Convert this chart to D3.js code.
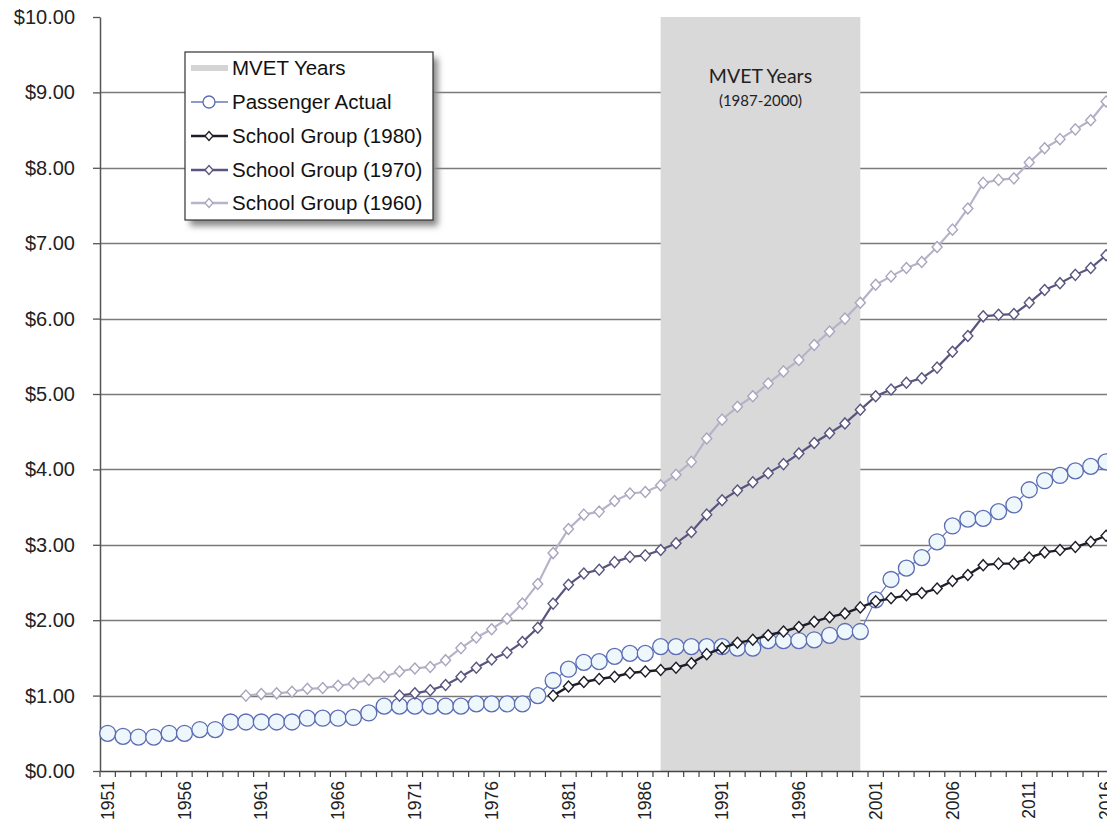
<!DOCTYPE html>
<html>
<head>
<meta charset="utf-8">
<script src="https://cdn.jsdelivr.net/npm/d3@7"></script>
<style>
  html, body { margin: 0; padding: 0; background: #fff; }
  svg { display: block; }
</style>
</head>
<body>
<svg id="chart" width="1107" height="822"></svg>
<script>
// ---------------- DATA ----------------
const years = [1951,1952,1953,1954,1955,1956,1957,1958,1959,1960,
  1961,1962,1963,1964,1965,1966,1967,1968,1969,1970,
  1971,1972,1973,1974,1975,1976,1977,1978,1979,1980,
  1981,1982,1983,1984,1985,1986,1987,1988,1989,1990,
  1991,1992,1993,1994,1995,1996,1997,1998,1999,2000,
  2001,2002,2003,2004,2005,2006,2007,2008,2009,2010,
  2011,2012,2013,2014,2015,2016];
const labeledYears = [1951,1956,1961,1966,1971,1976,1981,1986,1991,1996,2001,2006,2011,2016];
const yTicks = [0,1,2,3,4,5,6,7,8,9,10];

const passengerStart = 1951;
const passengerActual = [0.50,0.46,0.45,0.45,0.50,0.50,0.55,0.55,0.65,0.65,
  0.65,0.65,0.65,0.70,0.70,0.70,0.71,0.77,0.86,0.86,
  0.86,0.86,0.86,0.86,0.89,0.89,0.89,0.89,1.00,1.20,
  1.35,1.44,1.45,1.52,1.56,1.56,1.65,1.65,1.65,1.65,
  1.65,1.63,1.63,1.73,1.73,1.73,1.74,1.80,1.85,1.85,
  2.27,2.54,2.69,2.83,3.04,3.25,3.34,3.35,3.44,3.53,
  3.73,3.85,3.92,3.98,4.04,4.10];

const school1960Start = 1960;
const school1960 = [1.00,1.02,1.03,1.05,1.09,1.10,1.13,1.16,1.21,1.25,
  1.32,1.36,1.38,1.47,1.63,1.77,1.88,2.02,2.22,2.48,
  2.89,3.21,3.40,3.44,3.58,3.68,3.70,3.79,3.93,4.10,
  4.41,4.66,4.83,4.97,5.14,5.30,5.45,5.65,5.83,6.00,
  6.21,6.45,6.56,6.67,6.75,6.95,7.18,7.46,7.80,7.84,
  7.86,8.07,8.26,8.38,8.51,8.63,8.88];

const school1970Start = 1970;
const school1970 = [1.00,1.03,1.07,1.14,1.25,1.37,1.48,1.57,1.71,1.90,
  2.22,2.47,2.62,2.67,2.77,2.84,2.86,2.93,3.02,3.17,
  3.40,3.59,3.72,3.83,3.95,4.07,4.21,4.35,4.48,4.61,
  4.79,4.97,5.06,5.15,5.21,5.35,5.56,5.77,6.03,6.05,
  6.06,6.21,6.38,6.47,6.58,6.67,6.84];

const school1980Start = 1980;
const school1980 = [1.00,1.12,1.18,1.22,1.25,1.30,1.32,1.34,1.37,1.43,
  1.55,1.63,1.70,1.74,1.80,1.85,1.91,1.98,2.04,2.09,
  2.17,2.25,2.29,2.33,2.36,2.42,2.52,2.60,2.73,2.75,
  2.75,2.83,2.90,2.93,2.97,3.04,3.12];

const mvetStart = 1987, mvetEnd = 2000;
const mvetLabel = "MVET Years", mvetSub = "(1987-2000)";
const legendLabels = ["MVET Years","Passenger Actual","School Group (1980)","School Group (1970)","School Group (1960)"];

// ---------------- LAYOUT ----------------
const svg = d3.select("#chart");
const plotLeft = 100, plotTop = 17, plotBottom = 771;
const band = 15.36;
const x = d3.scaleBand().domain(years).range([plotLeft, plotLeft + years.length * band]).paddingInner(0).paddingOuter(0);
const cx = d => x(d) + x.bandwidth() / 2;
const y = d3.scaleLinear().domain([0, 10]).range([plotBottom, plotTop]);

const toPts = (start, arr) => arr.map((v, i) => ({ year: start + i, v }));
const pass = toPts(passengerStart, passengerActual);
const s60 = toPts(school1960Start, school1960);
const s70 = toPts(school1970Start, school1970);
const s80 = toPts(school1980Start, school1980);

const defs = svg.append("defs");
const f = defs.append("filter").attr("id", "shadow").attr("x", "-10%").attr("y", "-10%").attr("width", "130%").attr("height", "130%");
f.append("feGaussianBlur").attr("stdDeviation", 3);

// gridlines
svg.append("g").selectAll("line").data(yTicks.filter(d => d > 0 && d < 10)).join("line")
  .attr("x1", plotLeft).attr("x2", 1107)
  .attr("y1", d => Math.round(y(d)) + 0.5).attr("y2", d => Math.round(y(d)) + 0.5)
  .attr("stroke", "#7a7a7a").attr("stroke-width", 1.3);

// MVET shade
svg.append("rect")
  .attr("x", cx(mvetStart)).attr("y", plotTop)
  .attr("width", cx(mvetEnd) - cx(mvetStart)).attr("height", plotBottom - plotTop)
  .attr("fill", "#d9d9d9");

svg.append("text").attr("x", (cx(mvetStart) + cx(mvetEnd)) / 2).attr("y", 83)
  .attr("text-anchor", "middle").attr("font-family", "Lato, 'Open Sans', sans-serif")
  .attr("font-size", 19.5).attr("fill", "#222").text(mvetLabel);
svg.append("text").attr("x", (cx(mvetStart) + cx(mvetEnd)) / 2).attr("y", 106)
  .attr("text-anchor", "middle").attr("font-family", "Lato, 'Open Sans', sans-serif")
  .attr("font-size", 15).attr("fill", "#222").text(mvetSub);

// axes
const yAxis = svg.append("g").attr("transform", `translate(${plotLeft},0)`)
  .call(d3.axisLeft(y).tickValues(yTicks).tickFormat(d => "$" + d.toFixed(2)).tickSizeInner(7).tickSizeOuter(0).tickPadding(18));
yAxis.select(".domain").attr("stroke", "#555").attr("stroke-width", 1.5);
yAxis.selectAll(".tick line").attr("stroke", "#555").attr("stroke-width", 1.3);
yAxis.selectAll("text").attr("font-family", "'Liberation Sans', Arial, sans-serif").attr("font-size", 20).attr("fill", "#222");

const xAxis = svg.append("g").attr("transform", `translate(0,${plotBottom})`)
  .call(d3.axisBottom(x).tickValues(labeledYears).tickSize(0).tickPadding(0));
xAxis.select(".domain").attr("stroke", "#444").attr("stroke-width", 1.5);
xAxis.selectAll("text")
  .attr("font-family", "'Liberation Sans', Arial, sans-serif").attr("font-size", 17.5).attr("fill", "#222")
  .attr("text-anchor", "end").attr("dy", "0.35em").attr("y", 0)
  .attr("transform", "translate(0,10) rotate(-90)");
// tick marks at band boundaries
const bounds = years.map(d => x(d)).concat([x(years[years.length - 1]) + x.bandwidth()]);
svg.append("g").selectAll("line").data(bounds).join("line")
  .attr("x1", d => d).attr("x2", d => d).attr("y1", plotBottom).attr("y2", plotBottom + 6)
  .attr("stroke", "#444").attr("stroke-width", 1.2);

// series
const line = d3.line().x(d => cx(d.year)).y(d => y(d.v));
const diamond = "M0,-5.5L5,0L0,5.5L-5,0Z";

function drawPassenger(g, pts) {
  g.append("path").datum(pts).attr("d", line).attr("fill", "none").attr("stroke", "#6a78c0").attr("stroke-width", 1.2);
  g.selectAll("circle").data(pts).join("circle")
    .attr("cx", d => cx(d.year)).attr("cy", d => y(d.v)).attr("r", 8)
    .attr("fill", "#eef7fc").attr("stroke", "#5b6cb4").attr("stroke-width", 1.3);
}
function drawDiamonds(g, pts, lineColor, markColor, lw) {
  g.append("path").datum(pts).attr("d", line).attr("fill", "none").attr("stroke", lineColor).attr("stroke-width", lw);
  g.selectAll("path.m").data(pts).join("path").attr("class", "m")
    .attr("d", diamond).attr("transform", d => `translate(${cx(d.year)},${y(d.v)})`)
    .attr("fill", "#fff").attr("stroke", markColor).attr("stroke-width", 1.4);
}
const c60 = "#b8b3c9", c70 = "#58557f", c80 = "#1e1e2a";
drawPassenger(svg.append("g"), pass);
drawDiamonds(svg.append("g"), s60, c60, "#aaa5bf", 2.2);
drawDiamonds(svg.append("g"), s70, c70, c70, 2.2);
drawDiamonds(svg.append("g"), s80, c80, c80, 2.4);

// legend
const lg = svg.append("g");
const lx = 185, ly = 52, lw = 248, lh = 168;
lg.append("rect").attr("x", lx + 5).attr("y", ly + 6).attr("width", lw).attr("height", lh)
  .attr("fill", "#8a8a8a").attr("filter", "url(#shadow)");
lg.append("rect").attr("x", lx).attr("y", ly).attr("width", lw).attr("height", lh)
  .attr("fill", "#fff").attr("stroke", "#333").attr("stroke-width", 1.2);
const rowY = [68, 102, 136, 170, 203];
const sx1 = 191, sx2 = 228, smid = 209;
lg.append("line").attr("x1", sx1).attr("x2", sx2).attr("y1", rowY[0]).attr("y2", rowY[0])
  .attr("stroke", "#d4d4d4").attr("stroke-width", 6);
lg.append("line").attr("x1", sx1).attr("x2", sx2).attr("y1", rowY[1]).attr("y2", rowY[1]).attr("stroke", "#6a78c0").attr("stroke-width", 1.3);
lg.append("circle").attr("cx", smid).attr("cy", rowY[1]).attr("r", 6).attr("fill", "#fff").attr("stroke", "#5b6cb4").attr("stroke-width", 1.3);
[[c80, c80, 2], [c70, c70, 3], [c60, "#aaa5bf", 4]].forEach(([lc, mc, i]) => {
  lg.append("line").attr("x1", sx1).attr("x2", sx2).attr("y1", rowY[i]).attr("y2", rowY[i]).attr("stroke", lc).attr("stroke-width", 2.4);
  lg.append("path").attr("d", "M0,-4.5L4,0L0,4.5L-4,0Z").attr("transform", `translate(${smid},${rowY[i]})`)
    .attr("fill", "#fff").attr("stroke", mc).attr("stroke-width", 1.3);
});
lg.selectAll("text").data(legendLabels).join("text")
  .attr("x", 232).attr("y", (d, i) => rowY[i]).attr("dy", "0.36em")
  .attr("font-family", "'Liberation Sans', Arial, sans-serif").attr("font-size", 20.5).attr("fill", "#111")
  .text(d => d);
</script>
</body>
</html>
